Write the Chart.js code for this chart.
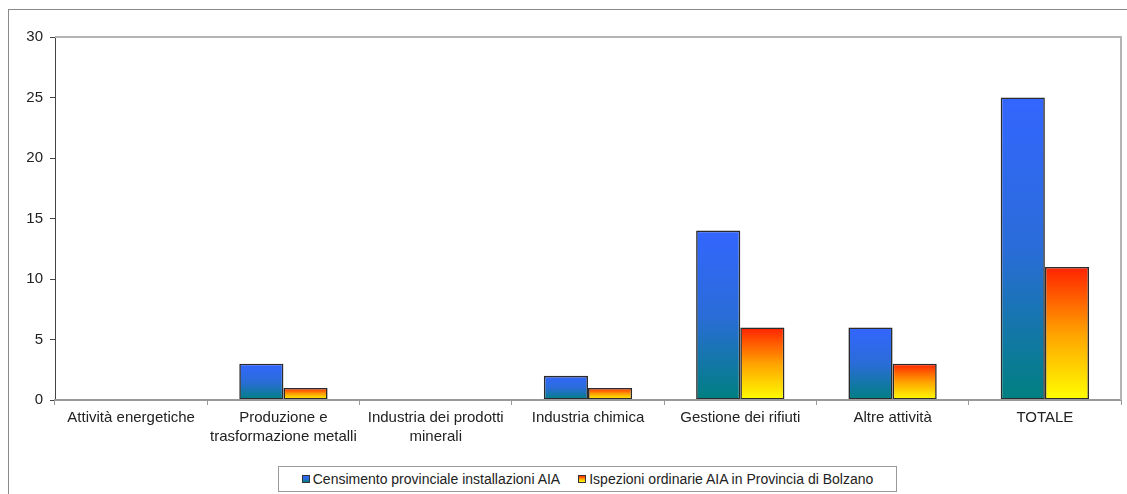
<!DOCTYPE html>
<html lang="it">
<head>
<meta charset="utf-8">
<title>Installazioni AIA e ispezioni ordinarie</title>
<script src="https://cdn.jsdelivr.net/npm/chart.js@4.4.1/dist/chart.umd.min.js"></script>
<style>
  html, body { margin: 0; padding: 0; background: #fff; overflow: hidden; }
  #wrap { position: relative; width: 1127px; height: 494px; }
  #chart { position: absolute; left: 0; top: 0; }
  #legend {
    position: absolute; left: 278px; top: 466px; width: 617px; height: 24px;
    border: 1px solid #9a9a9a; background: #fff;
    display: flex; justify-content: center; align-items: center; gap: 18px;
    font-family: "Liberation Sans", Arial, sans-serif; font-size: 14px; color: #222;
  }
  #legend .item { display: flex; align-items: center; white-space: nowrap; }
  #legend .sw { width: 6px; height: 6px; border: 1px solid #333; margin-right: 3px; }
</style>
</head>
<body>
<div id="wrap">
  <canvas id="chart" width="1127" height="494"></canvas>
  <div id="legend"></div>
</div>
<script>
// Categorie di attività IPPC
const categories = [
  'Attività energetiche',
  ['Produzione e', 'trasformazione metalli'],
  ['Industria dei prodotti', 'minerali'],
  'Industria chimica',
  'Gestione dei rifiuti',
  'Altre attività',
  'TOTALE'
];

const seriesNames = [
  'Censimento provinciale installazioni AIA',
  'Ispezioni ordinarie AIA in Provincia di Bolzano'
];

// Numero di installazioni censite e di ispezioni ordinarie per categoria
const censimento = [0, 3, 0, 2, 14, 6, 25];
const ispezioni  = [0, 1, 0, 1, 6, 3, 11];

const yTicks = [0, 5, 10, 15, 20, 25, 30];

// Colori sfumati (alto -> basso) per ciascuna serie
const gradientStops = [
  ['#3366ff', '#2a6cd8', '#008080'],
  ['#ff2200', '#ffa200', '#ffff00']
];

const FONT = '"Liberation Sans", Arial, sans-serif';

function barGradient(stops) {
  return function (ctx) {
    const chart = ctx.chart;
    if (!chart.chartArea || ctx.type !== 'data') return stops[1];
    const y = chart.scales.y;
    const top = y.getPixelForValue(ctx.raw);
    const base = y.getPixelForValue(0);
    if (base - top < 1) return stops[2];
    const g = chart.ctx.createLinearGradient(0, top, 0, base);
    g.addColorStop(0, stops[0]);
    g.addColorStop(0.5, stops[1]);
    g.addColorStop(1, stops[2]);
    return g;
  };
}

// Cornice esterna e bordi superiore/destro dell'area del grafico
const framePlugin = {
  id: 'frame',
  beforeDraw(chart) {
    const c = chart.ctx;
    c.save();
    c.fillStyle = '#fff';
    c.fillRect(0, 0, chart.width, chart.height);
    c.strokeStyle = '#8a8a8a';
    c.lineWidth = 1;
    c.strokeRect(8.5, 9.5, chart.width + 10, chart.height + 10);
    c.restore();
  },
  afterDraw(chart) {
    const a = chart.chartArea;
    const c = chart.ctx;
    c.save();
    c.strokeStyle = '#b4b4b4';
    c.lineWidth = 2;
    c.beginPath();
    c.moveTo(a.left, a.top);
    c.lineTo(a.right, a.top);
    c.lineTo(a.right, a.bottom);
    c.stroke();
    c.restore();
  }
};

new Chart(document.getElementById('chart'), {
  type: 'bar',
  data: {
    labels: categories,
    datasets: [
      {
        label: seriesNames[0],
        data: censimento,
        backgroundColor: barGradient(gradientStops[0]),
        borderColor: '#2b2b2b',
        borderWidth: 1.6,
        borderSkipped: false,
        inflateAmount: 0
      },
      {
        label: seriesNames[1],
        data: ispezioni,
        backgroundColor: barGradient(gradientStops[1]),
        borderColor: '#2b2b2b',
        borderWidth: 1.6,
        borderSkipped: false,
        inflateAmount: 0
      }
    ]
  },
  options: {
    responsive: false,
    animation: false,
    events: [],
    layout: { padding: { left: 0, right: 6, top: 37, bottom: 34 } },
    datasets: { bar: { categoryPercentage: 0.58, barPercentage: 1 } },
    plugins: {
      legend: { display: false },
      tooltip: { enabled: false }
    },
    scales: {
      x: {
        grid: {
          drawOnChartArea: false,
          offset: true,
          tickLength: 5,
          color: '#999'
        },
        border: { color: '#999', width: 2, z: 1 },
        ticks: {
          maxRotation: 0,
          autoSkip: false,
          padding: 3,
          color: '#222',
          font: { family: FONT, size: 15, lineHeight: 1.27 }
        },
        afterFit(scale) { scale.height = 60; }
      },
      y: {
        min: 0,
        max: 30,
        afterBuildTicks(scale) { scale.ticks = yTicks.map(v => ({ value: v })); },
        grid: {
          drawOnChartArea: false,
          tickLength: 5,
          color: '#444'
        },
        border: { color: '#444', width: 1 },
        ticks: {
          padding: 7,
          color: '#222',
          font: { family: FONT, size: 15 }
        },
        afterFit(scale) { scale.width = 55; }
      }
    }
  },
  plugins: [framePlugin]
});

// Legenda
const legend = document.getElementById('legend');
seriesNames.forEach((name, i) => {
  const item = document.createElement('span');
  item.className = 'item';
  const sw = document.createElement('span');
  sw.className = 'sw';
  sw.style.background = 'linear-gradient(' + gradientStops[i].join(',') + ')';
  const txt = document.createElement('span');
  txt.textContent = name;
  item.appendChild(sw);
  item.appendChild(txt);
  legend.appendChild(item);
});
</script>
</body>
</html>
